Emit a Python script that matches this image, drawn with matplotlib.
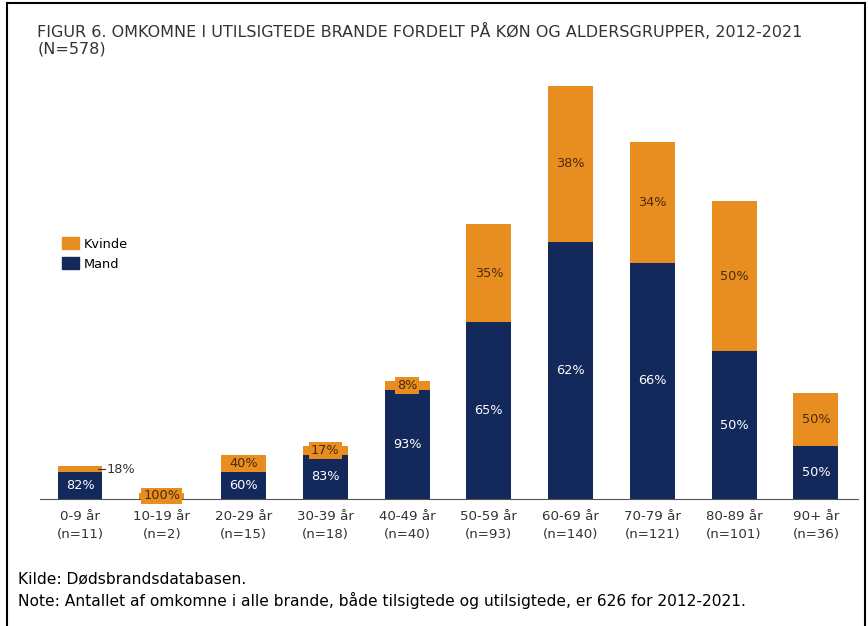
import numpy as np
import matplotlib.pyplot as plt
from matplotlib.lines import Line2D
from matplotlib.patches import Patch

ages = ['0-9 år', '10-19 år', '20-29 år', '30-39 år', '40-49 år',
        '50-59 år', '60-69 år', '70-79 år', '80-89 år', '90+ år']
n_total = [11, 2, 15, 18, 40, 93, 140, 121, 101, 36]
mand = [9, 0, 9, 15, 37, 60, 87, 80, 50, 18]
kvinde = [2, 2, 6, 3, 3, 33, 53, 41, 51, 18]
pct_mand = ['82%', '', '60%', '83%', '93%', '65%', '62%', '66%', '50%', '50%']
pct_kvinde = ['18%', '100%', '40%', '17%', '8%', '35%', '38%', '34%', '50%', '50%']

navy = '#13295b'
orange = '#e88e21'

fig = plt.figure(figsize=(8.68, 6.26), dpi=100)
ax = fig.add_axes([0.046, 0.203, 0.942, 0.66])

x = np.arange(len(ages))
w = 0.55
ax.bar(x, mand, w, color=navy, label='Mand')
ax.bar(x, kvinde, w, bottom=mand, color=orange, label='Kvinde')

for i in range(len(ages)):
    if pct_mand[i]:
        ax.text(x[i], mand[i] / 2, pct_mand[i], ha='center', va='center',
                color='white', fontsize=9.3)
    yk = mand[i] + kvinde[i] / 2
    if i == 0:
        # label outside with small leader
        ax.plot([x[i] + 0.22, x[i] + 0.3], [yk, yk], color='#333333', lw=0.8)
        ax.text(x[i] + 0.32, yk, pct_kvinde[i], ha='left', va='center',
                color='#333333', fontsize=9.3)
    elif kvinde[i] < 5:
        ax.text(x[i], yk, pct_kvinde[i], ha='center', va='center',
                color='#4a2a0a', fontsize=9.3,
                bbox=dict(boxstyle='square,pad=0.15', fc=orange, ec='none'))
    else:
        ax.text(x[i], yk, pct_kvinde[i], ha='center', va='center',
                color='#4a2a0a', fontsize=9.3)

ax.set_xlim(-0.49, 9.51)
ax.set_ylim(0, 140)
ax.set_xticks(x)
ax.set_xticklabels(['%s\n(n=%d)' % (a, n) for a, n in zip(ages, n_total)],
                   fontsize=9.6, color='#333333', linespacing=1.45)
ax.tick_params(axis='x', length=0, pad=8)
ax.set_yticks([])
for s in ['top', 'right', 'left']:
    ax.spines[s].set_visible(False)
ax.spines['bottom'].set_color('#555555')
ax.spines['bottom'].set_linewidth(0.8)

handles = [Patch(color=orange), Patch(color=navy)]
fig.legend(handles, ['Kvinde', 'Mand'], loc='upper left',
           bbox_to_anchor=(0.058, 0.64), frameon=False, fontsize=9.3,
           handlelength=1.3, handleheight=1.1, labelspacing=0.5,
           handletextpad=0.4)

fig.text(0.043, 0.963, 'FIGUR 6. OMKOMNE I UTILSIGTEDE BRANDE FORDELT PÅ KØN OG ALDERSGRUPPER, 2012-2021\n(N=578)',
         fontsize=11.5, color='#333333', va='top', ha='left', linespacing=1.15)
fig.text(0.021, 0.075, 'Kilde: Dødsbrandsdatabasen.', fontsize=11.2, color='black', va='center')
fig.text(0.021, 0.041, 'Note: Antallet af omkomne i alle brande, både tilsigtede og utilsigtede, er 626 for 2012-2021.',
         fontsize=11.2, color='black', va='center')

# frame around the figure
fig.add_artist(Line2D([0.008, 0.008], [0, 0.995], color='black', lw=1.5))
fig.add_artist(Line2D([0.008, 0.997], [0.995, 0.995], color='black', lw=1.5))
fig.add_artist(Line2D([0.997, 0.997], [0, 0.995], color='black', lw=1.5))

fig.savefig('out.png', dpi=100)
